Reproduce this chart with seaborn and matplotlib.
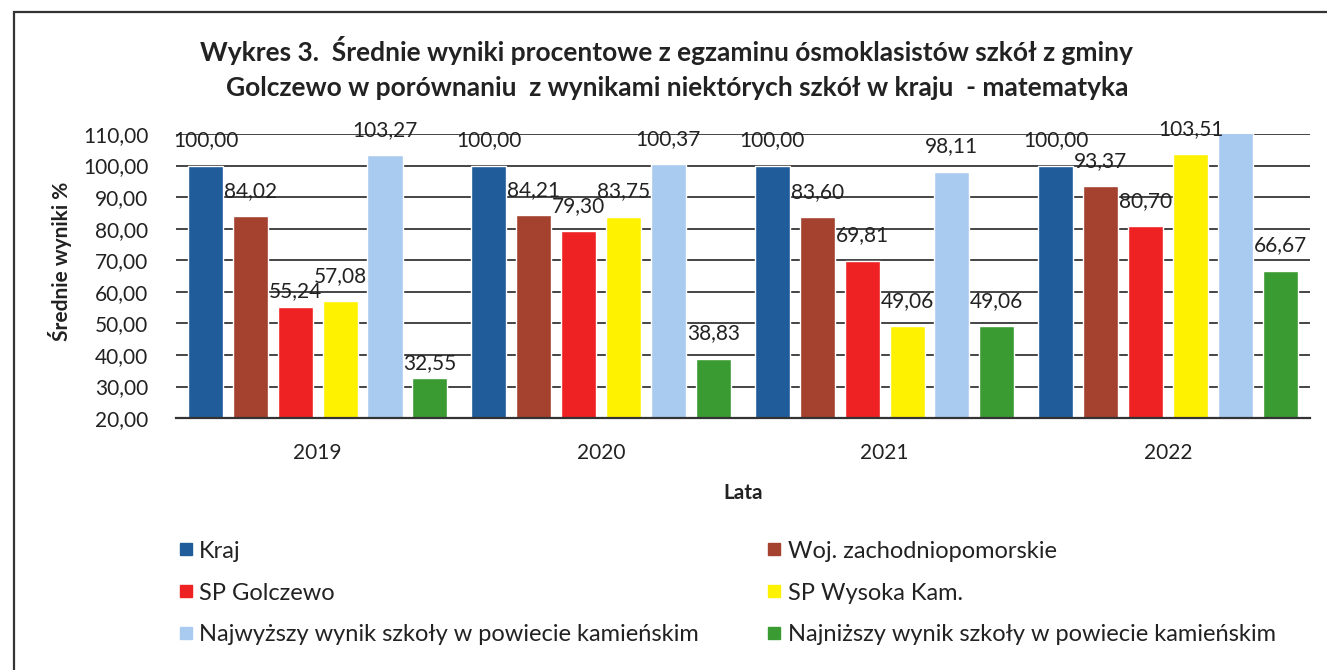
import pandas as pd
import matplotlib.pyplot as plt
import matplotlib.patches as mpatches
from matplotlib.lines import Line2D
import seaborn as sns

# Dane
lata = ["2019", "2020", "2021", "2022"]
serie = [
    "Kraj",
    "Woj. zachodniopomorskie",
    "SP Golczewo",
    "SP Wysoka Kam.",
    "Najwyższy wynik szkoły w powiecie kamieńskim",
    "Najniższy wynik szkoły w powiecie kamieńskim",
]
kraj = [100.00, 100.00, 100.00, 100.00]
woj = [84.02, 84.21, 83.60, 93.37]
golczewo = [55.24, 79.30, 69.81, 80.70]
wysoka = [57.08, 83.75, 49.06, 103.51]
najwyzszy = [103.27, 100.37, 98.11, 111.00]  # 2022: słupek ucięty na 110, brak etykiety
najnizszy = [32.55, 38.83, 49.06, 66.67]

kolory = ["#1F5C99", "#A5412F", "#EE2222", "#FFF200", "#A9CBEF", "#3A9B33"]

# Format "long" dla seaborn
wartosci = [kraj, woj, golczewo, wysoka, najwyzszy, najnizszy]
rows = []
for s, vals in zip(serie, wartosci):
    for rok, v in zip(lata, vals):
        rows.append({"rok": rok, "seria": s, "wynik": v})
df = pd.DataFrame(rows)

sns.set_style("white")
plt.rcParams["font.family"] = ["Lato", "DejaVu Sans"]

fig = plt.figure(figsize=(13.27, 6.70), dpi=100)
ax = fig.add_axes([0.1326, 0.376, 0.8544, 0.424])

sns.barplot(data=df, x="rok", y="wynik", hue="seria", hue_order=serie,
            palette=kolory, width=0.95, gap=0.22, ax=ax, legend=False,
            saturation=1, errorbar=None)

ymax = 110
ax.set_ylim(20, ymax)
ax.set_yticks(range(20, 111, 10))
ax.set_yticklabels([f"{v},00" for v in range(20, 111, 10)], fontsize=15, color="#222222")
ax.tick_params(axis="y", length=0, pad=20)
ax.tick_params(axis="x", length=0, pad=18, labelsize=15, labelcolor="#222222")
ax.grid(axis="y", color="#444444", linewidth=1.4)
ax.set_axisbelow(True)
for side in ["left", "right", "top"]:
    ax.spines[side].set_visible(False)
ax.spines["bottom"].set_color("#333333")
ax.spines["bottom"].set_linewidth(1.6)

ax.set_xlabel("Lata", fontsize=15, fontweight="bold", labelpad=14, color="#222222")
ax.set_ylabel("Średnie wyniki %", fontsize=15, fontweight="bold", color="#222222")
ax.yaxis.set_label_coords(-0.092, 0.55)

# Etykiety danych (przecinek dziesiętny), bez słupków poza skalą.
# W 2019 etykiety SP Golczewo i najniższego wyniku leżą niżej (jak w oryginale).
nizsze = {(2, 0), (5, 0)}
for si, (cont, vals) in enumerate(zip(ax.containers, wartosci)):
    for bi, (bar, v) in enumerate(zip(cont, vals)):
        if v > ymax:
            continue
        pad = 4 if (si, bi) in nizsze else 11
        ax.annotate(f"{v:.2f}".replace(".", ","),
                    (bar.get_x() + bar.get_width() / 2, bar.get_height()),
                    xytext=(0, pad), textcoords="offset points",
                    ha="center", va="bottom", fontsize=15, color="#222222")

fig.text(0.502, 0.925, "Wykres 3.  Średnie wyniki procentowe z egzaminu ósmoklasistów szkół z gminy",
         ha="center", va="center", fontsize=19, fontweight="bold", color="#222222")
fig.text(0.510, 0.869, "Golczewo w porównaniu  z wynikami niektórych szkół w kraju  - matematyka",
         ha="center", va="center", fontsize=19, fontweight="bold", color="#222222")

# Legenda - kolejność kolumnami (matplotlib wypełnia kolumnami)
handles = [Line2D([0], [0], marker="s", color="none", markerfacecolor=c,
                  markeredgecolor=c, markersize=9) for c in kolory]
order = [0, 2, 4, 1, 3, 5]
fig.legend([handles[i] for i in order], [serie[i] for i in order],
           loc="upper left", bbox_to_anchor=(0.128, 0.207), ncol=2, frameon=False,
           fontsize=17, handlelength=0.55, handletextpad=0.3, labelspacing=0.88,
           columnspacing=2.9, borderaxespad=0, labelcolor="#222222")

# Ramka wokół wykresu (lewa i górna krawędź widoczne)
fig.patches.append(mpatches.Rectangle((0.0105, -0.5), 2, 1.482, transform=fig.transFigure,
                                      fill=False, edgecolor="#333333", linewidth=1.6))

fig.savefig("out.png", dpi=100)
